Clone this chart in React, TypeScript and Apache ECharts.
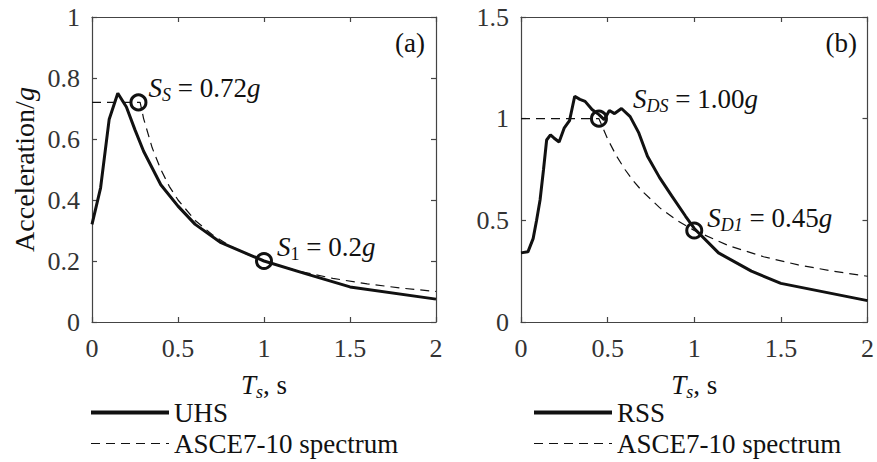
import React, { useEffect, useRef } from "react";
import * as echarts from "echarts";

const FONT = "Liberation Serif";
const INK = "#111111";
const AXIS = "#444444";

// Panel (a)
const uhsPeriods = [0, 0.05, 0.1, 0.15, 0.2, 0.25, 0.3, 0.4, 0.5, 0.6, 0.75, 1.0, 1.25, 1.5, 2.0];
const uhsValues = [0.32, 0.44, 0.665, 0.75, 0.705, 0.63, 0.56, 0.45, 0.38, 0.32, 0.26, 0.2, 0.157, 0.115, 0.075];
const asceAPeriods = [0, 0.28, 0.3, 0.35, 0.4, 0.45, 0.5, 0.6, 0.7, 0.8, 0.9, 1.0, 1.2, 1.4, 1.6, 1.8, 2.0];
const asceAValues = [0.72, 0.72, 0.667, 0.571, 0.5, 0.444, 0.4, 0.333, 0.286, 0.25, 0.222, 0.2, 0.167, 0.143, 0.125, 0.111, 0.1];

// Panel (b)
const rssPeriods = [0, 0.04, 0.07, 0.09, 0.11, 0.13, 0.148, 0.17, 0.19, 0.22, 0.25, 0.28, 0.31, 0.34, 0.37, 0.41, 0.45, 0.48, 0.51, 0.54, 0.58, 0.63, 0.68, 0.73, 0.8, 0.87, 0.95, 1.0, 1.14, 1.33, 1.5, 2.0];
const rssValues = [0.34, 0.345, 0.41, 0.5, 0.6, 0.75, 0.895, 0.92, 0.905, 0.885, 0.955, 0.99, 1.11, 1.095, 1.085, 1.045, 1.02, 0.995, 1.04, 1.025, 1.05, 1.01, 0.93, 0.815, 0.71, 0.62, 0.52, 0.46, 0.34, 0.25, 0.19, 0.105];
const asceBPeriods = [0, 0.45, 0.5, 0.55, 0.6, 0.65, 0.7, 0.8, 0.9, 1.0, 1.2, 1.4, 1.6, 1.8, 2.0];
const asceBValues = [1.0, 1.0, 0.9, 0.818, 0.75, 0.692, 0.643, 0.5625, 0.5, 0.45, 0.375, 0.321, 0.281, 0.25, 0.225];

const xTicks = [0, 0.5, 1, 1.5, 2];
const yTicksA = [0, 0.2, 0.4, 0.6, 0.8, 1];
const yTicksB = [0, 0.5, 1, 1.5];

const pointsA = [
  { value: [0.27, 0.72], label: "{it|S}{sub|S}{n| = 0.72}{it|g}", offset: [1, -14] },
  { value: [1.0, 0.2], label: "{it|S}{subr|1}{n| = 0.2}{it|g}", offset: [4, -14] },
];
const pointsB = [
  { value: [0.45, 1.0], label: "{it|S}{sub|DS}{n| = 1.00}{it|g}", offset: [25, -20] },
  { value: [1.0, 0.45], label: "{it|S}{sub|D1}{n| = 0.45}{it|g}", offset: [4, -13] },
];

const zip = (a: number[], b: number[]) => a.map((v, i) => [v, b[i]]);

const rich = {
  it: { fontStyle: "italic", fontSize: 27, fontFamily: FONT, color: INK },
  n: { fontSize: 27, fontFamily: FONT, color: INK },
  sub: { fontStyle: "italic", fontSize: 18, fontFamily: FONT, color: INK, padding: [14, 0, 0, 0] },
  subr: { fontSize: 18, fontFamily: FONT, color: INK, padding: [14, 0, 0, 0] },
};

const fmtNum = (v: number) => String(Number(v.toFixed(2)));

export default function App() {
  const ref = useRef<HTMLDivElement>(null);
  useEffect(() => {
    if (!ref.current) return;
    const chart = echarts.init(ref.current, undefined, { renderer: "svg" });

    const grids = [
      { left: 92, top: 17, width: 344, height: 305 },
      { left: 521, top: 17, width: 348, height: 305 },
    ];

    const baseAxis = {
      axisLine: { show: true, onZero: false, lineStyle: { color: AXIS, width: 1.2 } },
      axisTick: { show: true, inside: true, length: 5, lineStyle: { color: AXIS, width: 1.2 } },
      splitLine: { show: false },
    };
    const labelStyle = { fontSize: 26, fontFamily: FONT, color: "#333333" };

    const xAxis: any[] = [];
    const yAxis: any[] = [];
    [0, 1].forEach((g) => {
      xAxis.push({
        ...baseAxis,
        type: "value",
        gridIndex: g,
        min: 0,
        max: 2,
        interval: 0.5,
        position: "bottom",
        axisLabel: { ...labelStyle, margin: 13, formatter: (v: number) => (xTicks.includes(v) ? fmtNum(v) : "") },
        name: "{it|T}{sub|s}{n|, s}",
        nameLocation: "middle",
        nameGap: 47,
        nameTextStyle: { fontFamily: FONT, rich },
      });
      xAxis.push({
        ...baseAxis,
        type: "value",
        gridIndex: g,
        min: 0,
        max: 2,
        interval: 0.5,
        position: "top",
        axisLabel: { show: false },
      });
      const yMax = g === 0 ? 1 : 1.5;
      const yInt = g === 0 ? 0.2 : 0.5;
      const yT = g === 0 ? yTicksA : yTicksB;
      yAxis.push({
        ...baseAxis,
        type: "value",
        gridIndex: g,
        min: 0,
        max: yMax,
        interval: yInt,
        position: "left",
        axisLabel: {
          ...labelStyle,
          margin: 12,
          formatter: (v: number) => (yT.some((t) => Math.abs(t - v) < 1e-9) ? fmtNum(v) : ""),
        },
        ...(g === 0
          ? {
              name: "Acceleration/{it|g}",
              nameLocation: "middle",
              nameGap: 54,
              nameTextStyle: { fontSize: 28, fontFamily: FONT, color: INK, rich: { it: { fontStyle: "italic", fontSize: 28, fontFamily: FONT, color: INK } } },
            }
          : {}),
      });
      yAxis.push({
        ...baseAxis,
        type: "value",
        gridIndex: g,
        min: 0,
        max: yMax,
        interval: yInt,
        position: "right",
        axisLabel: { show: false },
      });
    });

    const solid = { color: INK, width: 3, type: "solid" };
    const dashed = { color: INK, width: 1.2, type: [9, 6] };

    const circleSeries = (pts: any[], xi: number, yi: number) => ({
      type: "scatter",
      xAxisIndex: xi,
      yAxisIndex: yi,
      symbol: "circle",
      symbolSize: 15,
      z: 5,
      itemStyle: { color: "rgba(0,0,0,0)", borderColor: INK, borderWidth: 3, opacity: 1 },
      data: pts.map((p) => ({
        value: p.value,
        label: {
          show: true,
          position: "right",
          distance: 0,
          offset: p.offset,
          formatter: p.label,
          fontFamily: FONT,
          rich,
        },
      })),
    });

    const legendCommon = {
      orient: "vertical",
      itemWidth: 78,
      itemHeight: 10,
      itemGap: 4,
      padding: 0,
      selectedMode: false,
      textStyle: { fontSize: 27, fontFamily: FONT, color: INK, lineHeight: 27 },
    };

    chart.setOption({
      animation: false,
      backgroundColor: "#ffffff",
      textStyle: { fontFamily: FONT },
      grid: grids,
      xAxis,
      yAxis,
      title: [
        { text: "(a)", right: 452, top: 29, padding: 0, textStyle: { fontSize: 27, fontWeight: "normal", fontFamily: FONT, color: INK } },
        { text: "(b)", right: 20, top: 29, padding: 0, textStyle: { fontSize: 27, fontWeight: "normal", fontFamily: FONT, color: INK } },
      ],
      legend: [
        {
          ...legendCommon,
          left: 89,
          top: 399,
          data: [
            { name: "UHS", lineStyle: { ...solid, width: 4 }, itemStyle: { opacity: 0 } },
            { name: "ASCE7-10 spectrum", lineStyle: dashed, itemStyle: { opacity: 0 } },
          ],
        },
        {
          ...legendCommon,
          left: 532,
          top: 399,
          data: [
            { name: "RSS", lineStyle: { ...solid, width: 4 }, itemStyle: { opacity: 0 } },
            { name: "ASCE7-10 spectrum", lineStyle: dashed, itemStyle: { opacity: 0 } },
          ],
        },
      ],
      series: [
        { name: "ASCE7-10 spectrum", type: "line", color: INK, xAxisIndex: 0, yAxisIndex: 0, symbol: "none", lineStyle: dashed, data: zip(asceAPeriods, asceAValues) },
        { name: "UHS", type: "line", color: INK, xAxisIndex: 0, yAxisIndex: 0, symbol: "none", lineStyle: solid, data: zip(uhsPeriods, uhsValues) },
        { name: "ASCE7-10 spectrum", type: "line", color: INK, xAxisIndex: 2, yAxisIndex: 2, symbol: "none", lineStyle: dashed, data: zip(asceBPeriods, asceBValues) },
        { name: "RSS", type: "line", color: INK, xAxisIndex: 2, yAxisIndex: 2, symbol: "none", lineStyle: solid, data: zip(rssPeriods, rssValues) },
        circleSeries(pointsA, 0, 0),
        circleSeries(pointsB, 2, 2),
      ],
    });
    return () => chart.dispose();
  }, []);
  return <div ref={ref} style={{ position: "fixed", left: 0, top: 0, width: 877, height: 462, background: "#fff" }} />;
}
